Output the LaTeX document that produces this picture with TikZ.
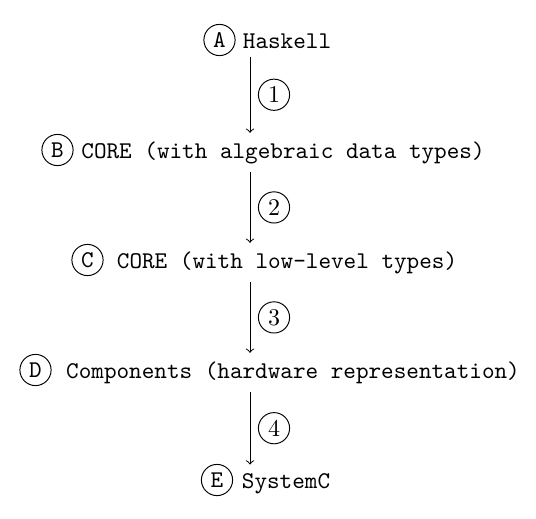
\documentclass[tikz,border=0pt]{standalone}
\begin{document}
\begin{tikzpicture}[x=0.41667pt, y=-0.41667pt,
  tag/.style={draw, circle, line width=0.4pt, minimum size=13pt, inner sep=0pt, font=\ttfamily},
  steptag/.style={draw, circle, line width=0.4pt, minimum size=13pt, inner sep=0pt},
  stage/.style={anchor=base, font=\ttfamily},
  flow/.style={->, line width=0.4pt}]
  \useasboundingbox (0,0) rectangle (536,518);

  % stage texts
  \node[stage] (a) at (287,48)  {Haskell};
  \node[stage] (b) at (283,158) {CORE (with algebraic data types)};
  \node[stage] (c) at (287,268) {CORE (with low-level types)};
  \node[stage] (d) at (293,378) {Components (hardware representation)};
  \node[stage] (e) at (286,488) {SystemC};

  % circled stage letters
  \node[tag] (la) at (219.5,40) {A};
  \node[tag] (lb) at (57.5,150) {B};
  \node[tag] (lc) at (87.5,260) {C};
  \node[tag] (ld) at (35.5,370) {D};
  \node[tag] (le) at (217,480)  {E};

  % transformation steps
  \coordinate (ax) at (250,0);
  \draw[flow] (a.south -| ax) -- node[steptag, right, xshift=3.3pt] (s1) {1} (b.north -| ax);
  \draw[flow] (b.south -| ax) -- node[steptag, right, xshift=3.3pt] (s2) {2} (c.north -| ax);
  \draw[flow] (c.south -| ax) -- node[steptag, right, xshift=3.3pt] (s3) {3} (d.north -| ax);
  \draw[flow] (d.south -| ax) -- node[steptag, right, xshift=3.3pt] (s4) {4} (e.north -| ax);
\end{tikzpicture}
\end{document}
